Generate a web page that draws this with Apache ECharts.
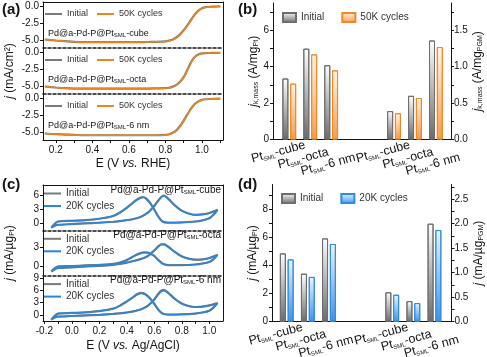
<!DOCTYPE html>
<html><head><meta charset="utf-8">
<script src="https://cdn.jsdelivr.net/npm/echarts@6/dist/echarts.min.js"></script>
<style>html,body{margin:0;padding:0;background:#fff}#c{width:487px;height:357px}</style>
</head><body><div id="c"></div>
<script>
// ---------- panel (a): ORR polarization curves ----------
const potA = [0.14,0.2,0.25,0.3,0.35,0.4,0.45,0.5,0.55,0.6,0.65,0.7,0.75,0.8,0.82,0.84,0.86,0.88,0.9,0.92,0.94,0.96,0.98,1.0,1.02,1.04,1.07,1.1];
const cubeInitialA = [-4.85,-5.0,-5.1,-5.2,-5.25,-5.25,-5.25,-5.25,-5.25,-5.25,-5.25,-5.22,-5.2,-5.13,-5.02,-4.85,-4.55,-4.1,-3.5,-2.78,-1.98,-1.2,-0.62,-0.28,-0.11,-0.05,-0.02,0.0];
const cube50KA     = [-4.85,-5.0,-5.1,-5.2,-5.25,-5.25,-5.25,-5.25,-5.25,-5.25,-5.25,-5.22,-5.2,-5.15,-5.05,-4.9,-4.6,-4.15,-3.55,-2.85,-2.05,-1.25,-0.65,-0.3,-0.12,-0.05,-0.02,0.0];
const octaInitialA = [-5.0,-5.15,-5.25,-5.3,-5.3,-5.3,-5.3,-5.3,-5.3,-5.3,-5.3,-5.3,-5.28,-5.25,-5.18,-5.02,-4.75,-4.3,-3.62,-2.55,-1.45,-0.68,-0.3,-0.15,-0.1,-0.08,-0.06,-0.05];
const octa50KA     = [-5.0,-5.15,-5.25,-5.3,-5.3,-5.3,-5.3,-5.3,-5.3,-5.3,-5.3,-5.3,-5.28,-5.25,-5.2,-5.05,-4.8,-4.35,-3.7,-2.65,-1.55,-0.72,-0.32,-0.16,-0.1,-0.08,-0.06,-0.05];
const nmInitialA   = [-5.15,-5.25,-5.3,-5.35,-5.4,-5.4,-5.4,-5.4,-5.4,-5.4,-5.4,-5.4,-5.4,-5.35,-5.25,-5.05,-4.68,-4.05,-3.25,-2.35,-1.5,-0.82,-0.43,-0.21,-0.12,-0.08,-0.05,-0.04];
const nm50KA       = [-5.15,-5.25,-5.3,-5.35,-5.4,-5.4,-5.4,-5.4,-5.4,-5.4,-5.4,-5.4,-5.4,-5.35,-5.27,-5.08,-4.72,-4.12,-3.33,-2.42,-1.57,-0.87,-0.46,-0.22,-0.12,-0.08,-0.05,-0.04];
const aXTicks = [0.2,0.3,0.4,0.5,0.6,0.7,0.8,0.9,1.0,1.1];
const aXLabels = [0.2,0.4,0.6,0.8,1.0];
const aYLabels = [-5,-2.5,0];

// ---------- panel (c): CV curves ----------
const fwdE = [-0.15,-0.12,-0.1,0.0,0.1,0.2,0.3,0.35,0.4,0.45,0.5,0.55,0.6,0.63,0.65,0.67,0.7,0.75,0.8,0.85,0.9,0.95,1.0,1.06];
const revE = [1.03,1.0,0.95,0.9,0.8,0.7,0.66,0.63,0.6,0.57,0.54,0.52,0.5,0.47,0.44,0.4,0.35,0.3,0.2,0.1,0.0,-0.1,-0.15];
const cubeInitFwdC = [-1.0,-0.55,-0.4,-0.25,-0.1,0.05,0.25,0.4,0.6,0.85,1.3,2.15,3.7,4.9,5.6,5.9,5.3,3.8,2.65,2.05,1.75,1.85,2.15,2.85];
const cubeInitRevC = [1.75,1.0,0.55,0.3,0.1,0.05,0.3,1.35,2.9,4.3,5.3,5.6,5.5,5.0,4.3,3.3,2.25,1.5,0.9,0.6,0.45,0.3,-1.0];
const cube20KFwdC  = [-1.0,-0.55,-0.4,-0.25,-0.1,0.05,0.25,0.4,0.6,0.85,1.3,2.1,3.6,4.8,5.5,5.8,5.2,3.7,2.6,2.0,1.7,1.8,2.1,2.8];
const cube20KRevC  = [1.7,1.0,0.55,0.3,0.1,0.05,0.3,1.3,2.8,4.2,5.2,5.5,5.4,4.9,4.2,3.2,2.2,1.5,0.9,0.6,0.45,0.3,-1.0];
const octaInitFwdC = [-0.9,-0.5,-0.35,-0.25,-0.1,0.0,0.15,0.3,0.5,0.75,1.05,1.5,2.45,3.1,3.4,3.42,3.05,2.2,1.5,1.12,0.97,1.02,1.22,1.72];
const octaInitRevC = [1.02,0.6,0.35,0.2,0.1,0.1,0.35,0.9,1.55,1.95,2.1,2.1,2.0,1.75,1.38,0.92,0.5,0.3,0.15,0.05,-0.05,-0.1,-0.9];
const octa20KFwdC  = [-0.9,-0.5,-0.35,-0.25,-0.1,0.0,0.15,0.3,0.5,0.75,1.05,1.5,2.4,3.0,3.3,3.3,2.95,2.15,1.45,1.1,0.95,1.0,1.2,1.7];
const octa20KRevC  = [1.0,0.6,0.35,0.2,0.1,0.1,0.35,0.9,1.5,1.9,2.05,2.05,1.95,1.7,1.35,0.9,0.5,0.3,0.15,0.05,-0.05,-0.1,-0.9];
const nmInitFwdC   = [-1.2,-0.6,-0.45,-0.3,-0.15,0.0,0.2,0.35,0.55,0.85,1.3,2.15,3.8,5.15,5.9,6.1,5.45,3.9,2.75,2.15,1.9,2.0,2.3,2.85];
const nmInitRevC   = [1.75,1.0,0.55,0.3,0.1,0.05,0.3,1.25,2.7,4.0,4.95,5.3,5.35,4.95,4.2,3.3,2.25,1.5,0.9,0.6,0.45,0.3,-1.2];
const nm20KFwdC    = [-1.2,-0.6,-0.45,-0.3,-0.15,0.0,0.2,0.35,0.55,0.85,1.3,2.1,3.7,5.0,5.7,5.9,5.3,3.8,2.7,2.1,1.85,1.95,2.25,2.8];
const nm20KRevC    = [1.7,1.0,0.55,0.3,0.1,0.05,0.3,1.2,2.6,3.9,4.8,5.15,5.2,4.8,4.1,3.2,2.2,1.5,0.9,0.6,0.45,0.3,-1.2];
const cXTicks = [-0.2,-0.1,0,0.1,0.2,0.3,0.4,0.5,0.6,0.7,0.8,0.9,1.0];
const cXLabels = [-0.2,0,0.2,0.4,0.6,0.8,1.0];

// ---------- panels (b) and (d): bars ----------
const catSuffix = ['cube','octa','6 nm','','','cube','octa','6 nm'];
const bInitialPt = [3.35,4.99,4.08];
const b50KPt     = [3.07,4.68,3.80];
const bInitialPGM = [0.39,0.60,1.36];
const b50KPGM     = [0.36,0.57,1.27];
const dInitialPt = [4.88,3.43,5.95];
const d20KPt     = [4.45,3.20,5.55];
const dInitialPGM = [0.60,0.42,2.00];
const d20KPGM     = [0.55,0.38,1.87];
const bLeftTicks = [0,1,2,3,4,5,6,7], bLeftLabels = [0,2,4,6];
const bRightTicks = [0,0.25,0.5,0.75,1,1.25,1.5,1.75], bRightLabels = [0,0.5,1,1.5];
const dLeftTicks = [0,1,2,3,4,5,6,7,8,9], dLeftLabels = [0,2,4,6,8];
const dRightTicks = [0,0.25,0.5,0.75,1,1.25,1.5,1.75,2,2.25,2.5,2.75], dRightLabels = [0,0.5,1,1.5,2,2.5];

// ---------- build ----------
const FONT = '"Liberation Sans", Arial, Helvetica, sans-serif';
const INK = '#141414';
const GRAY = '#7a7a7a', ORANGE = '#f08519', BLUE = '#2a86d8';
const chart = echarts.init(document.getElementById('c'), null, {renderer:'canvas'});
const grid=[], xAxis=[], yAxis=[], series=[], legend=[], graphic=[];
const addGrid = g => (grid.push(g), grid.length-1);
const addX = a => (xAxis.push(a), xAxis.length-1);
const addY = a => (yAxis.push(a), yAxis.length-1);
const zip = (xs, ys) => xs.map((x,i)=>[x, ys[i]]);
const line = (w,t) => ({show:true,onZero:false,lineStyle:{color:INK,width:w||1,type:t||'solid'}});
const noSplit = {show:false};
function bareAxis(gi, min, max, pos, lt, lw){
  return {gridIndex:gi, type:'value', min, max, position:pos, axisLine:line(lw,lt), axisTick:{show:false}, axisLabel:{show:false}, splitLine:noSplit};
}
function titleStyle(fs){
  return {fontSize:fs, fontFamily:FONT, color:INK,
    rich:{i:{fontSize:fs, fontFamily:FONT, color:INK, fontStyle:'italic'},
          s:{fontSize:7, fontFamily:FONT, color:INK, verticalAlign:'bottom'},
          n:{fontSize:fs, fontFamily:FONT, color:INK}}};
}
const labelRich = fs => ({fontSize:fs, fontFamily:FONT, fill:INK,
  rich:{s:{fontSize:6, fontFamily:FONT, fill:INK, verticalAlign:'bottom'}, n:{fontSize:fs, fontFamily:FONT, fill:INK}}});

// (a)
const aPanels = [
  {name:'cube', init:cubeInitialA, cyc:cube50KA},
  {name:'octa', init:octaInitialA, cyc:octa50KA},
  {name:'6 nm', init:nmInitialA, cyc:nm50KA}];
aPanels.forEach((p,i)=>{
  const top = 2 + 46*i;
  const gi = addGrid({left:43, width:180, top, height:46});
  const last = i===2;
  const xb = addX({gridIndex:gi, type:'value', min:0.13, max:1.115, position:'bottom',
    axisLine: last ? line(1) : line(1.5,[3,2]),
    axisTick:{show:last, length:3, customValues:aXTicks, lineStyle:{color:INK}},
    axisLabel:{show:last, customValues:aXLabels, formatter:v=>v.toFixed(1), fontSize:10, color:INK, fontFamily:FONT, margin:5},
    splitLine:noSplit,
    name: last ? 'E (V {i|vs.} RHE)' : '', nameLocation:'middle', nameGap:18, nameTextStyle:titleStyle(12)});
  if(i===0) addX(bareAxis(gi,0.13,1.115,'top'));
  const yl = addY({gridIndex:gi, type:'value', min:-6.1, max:0.65, position:'left', axisLine:line(1),
    axisTick:{show:true, length:3, customValues:aYLabels, lineStyle:{color:INK}},
    axisLabel:{show:true, customValues:aYLabels, formatter:v=>v.toFixed(1), fontSize:10, color:INK, fontFamily:FONT, margin:4},
    splitLine:noSplit,
    name: i===1 ? '{i|j} (mA/cm²)' : '', nameLocation:'middle', nameGap:27, nameRotate:90, nameTextStyle:titleStyle(12)});
  addY(bareAxis(gi,-6.1,0.65,'right'));
  series.push({type:'line', name:'a-Initial', xAxisIndex:xb, yAxisIndex:yl, data:zip(potA,p.init), symbol:'none', smooth:0.3,
    lineStyle:{color:GRAY,width:2.2}, itemStyle:{color:GRAY}, z:2});
  series.push({type:'line', name:'a-50K cycles', xAxisIndex:xb, yAxisIndex:yl, data:zip(potA,p.cyc), symbol:'none', smooth:0.3,
    lineStyle:{color:ORANGE,width:1.5}, itemStyle:{color:ORANGE}, z:3});
  legend.push({data:['a-Initial','a-50K cycles'], left:45, top:top+7.5, icon:'rect', itemWidth:17, itemHeight:2, itemGap:9, padding:0,
    formatter:n=>n.slice(2), textStyle:{fontSize:9, fontFamily:FONT, color:'#333'}});
  graphic.push({type:'text', x:48, y:top+32, style:Object.assign({text:'Pd@a-Pd-P@Pt{s|SML}{n|-'+p.name+'}', verticalAlign:'middle'}, labelRich(9))});
});

// (c)
const cPanels = [
  {name:'cube', min:-1.6, max:8.2, labels:[0,3,6], iF:cubeInitFwdC, iR:cubeInitRevC, cF:cube20KFwdC, cR:cube20KRevC},
  {name:'octa', min:-1.55, max:5.6, labels:[0,3], iF:octaInitFwdC, iR:octaInitRevC, cF:octa20KFwdC, cR:octa20KRevC},
  {name:'6 nm', min:-1.5, max:9.6, labels:[0,3,6,9], iF:nmInitFwdC, iR:nmInitRevC, cF:nm20KFwdC, cR:nm20KRevC}];
const cE = fwdE.concat(revE);
cPanels.forEach((p,i)=>{
  const top = 185 + 45.3*i;
  const gi = addGrid({left:43, width:180, top, height:45.3});
  const last = i===2;
  const xb = addX({gridIndex:gi, type:'value', min:-0.21, max:1.1, position:'bottom',
    axisLine: last ? line(1) : line(1.5,[3,2]),
    axisTick:{show:last, length:3, customValues:cXTicks, lineStyle:{color:INK}},
    axisLabel:{show:last, customValues:cXLabels, formatter:v=>v.toFixed(1), fontSize:10, color:INK, fontFamily:FONT, margin:5},
    splitLine:noSplit,
    name: last ? 'E (V {i|vs.} Ag/AgCl)' : '', nameLocation:'middle', nameGap:19, nameTextStyle:titleStyle(12)});
  if(i===0) addX(bareAxis(gi,-0.21,1.1,'top'));
  const yl = addY({gridIndex:gi, type:'value', min:p.min, max:p.max, position:'left', axisLine:line(1),
    axisTick:{show:true, length:3, customValues:p.labels, lineStyle:{color:INK}},
    axisLabel:{show:true, customValues:p.labels, fontSize:10, color:INK, fontFamily:FONT, margin:4},
    splitLine:noSplit,
    name: i===1 ? '{i|j} (mA/µg{s|Pt})' : '', nameLocation:'middle', nameGap:27, nameRotate:90, nameTextStyle:titleStyle(12)});
  addY(bareAxis(gi,p.min,p.max,'right'));
  series.push({type:'line', name:'c-Initial', xAxisIndex:xb, yAxisIndex:yl, data:zip(cE,p.iF.concat(p.iR)), symbol:'none', smooth:0.25,
    lineStyle:{color:GRAY,width:2.2}, itemStyle:{color:GRAY}, z:2});
  series.push({type:'line', name:'c-20K cycles', xAxisIndex:xb, yAxisIndex:yl, data:zip(cE,p.cF.concat(p.cR)), symbol:'none', smooth:0.25,
    lineStyle:{color:BLUE,width:1.5}, itemStyle:{color:BLUE}, z:3});
  legend.push({data:['c-Initial','c-20K cycles'], orient:'vertical', left:44, top:top+3.5, icon:'rect', itemWidth:17, itemHeight:2, itemGap:2.5, padding:0,
    formatter:n=>n.slice(2), textStyle:{fontSize:10, fontFamily:FONT, color:'#333'}});
  graphic.push({type:'text', x:221, y:top+5, style:Object.assign({text:'Pd@a-Pd-P@Pt{s|SML}{n|-'+p.name+'}', align:'right', verticalAlign:'middle'}, labelRich(10))});
});

// (b), (d)
function grad(c0, c1){ return new echarts.graphic.LinearGradient(0,0,0,1,[{offset:0,color:c0},{offset:1,color:c1}]); }
const pad = (arr, before, after) => Array(before).fill(null).concat(arr, Array(after).fill(null));
const barAxes = [];
function barPanel(o){
  const fg = addGrid({left:o.left, width:o.width, top:o.top, height:o.height});
  addX(bareAxis(fg,0,1,'bottom'));
  addY({gridIndex:fg, type:'value', min:0, max:o.lmax, position:'left', axisLine:line(1),
    axisTick:{show:true, length:3, customValues:o.lTicks, lineStyle:{color:INK}},
    axisLabel:{show:true, customValues:o.lLabels, fontSize:10, color:INK, fontFamily:FONT, margin:4},
    splitLine:noSplit, name:o.lName, nameLocation:'middle', nameGap:o.lGap, nameRotate:90, nameTextStyle:titleStyle(12)});
  addY({gridIndex:fg, type:'value', min:0, max:o.rmax, position:'right', axisLine:line(1),
    axisTick:{show:true, length:3, customValues:o.rTicks, lineStyle:{color:INK}},
    axisLabel:{show:true, customValues:o.rLabels, formatter:v=>v.toFixed(1), fontSize:10, color:INK, fontFamily:FONT, margin:3},
    splitLine:noSplit, name:o.rName, nameLocation:'middle', nameGap:o.rGap, nameRotate:90, nameTextStyle:titleStyle(12)});
  const bg = addGrid({left:o.bleft, width:o.bwidth, top:o.top, height:o.height});
  const bx0 = addX({gridIndex:bg, type:'category', data:catSuffix.map((s,k)=>'k'+k), position:'bottom',
    axisLine:{show:false}, axisTick:{show:false}, axisLabel:{show:false}, splitLine:noSplit});
  const bx1 = addX({gridIndex:bg, type:'category', data:catSuffix.map((s,k)=>'k'+k), show:false, position:'top'});
  const byL = addY({gridIndex:bg, type:'value', min:0, max:o.lmax, show:false, position:'left'});
  const byR = addY({gridIndex:bg, type:'value', min:0, max:o.rmax, show:false, position:'right'});
  barAxes.push({x:bx0, y:byL, base:o.top+o.height});
  const gStyle = {color:grad('#ffffff','#6a6a6a'), borderColor:'#6e6e6e', borderWidth:1};
  const cStyle = {color:grad(o.cTop,o.cBot), borderColor:o.cBorder, borderWidth:1};
  const common = {type:'bar', barWidth:6, barGap:'30%'};
  series.push(Object.assign({name:o.p+'-Initial', xAxisIndex:bx0, yAxisIndex:byL, data:pad(o.iPt,0,5), itemStyle:gStyle}, common));
  series.push(Object.assign({name:o.p+'-'+o.cName, xAxisIndex:bx0, yAxisIndex:byL, data:pad(o.cPt,0,5), itemStyle:cStyle}, common));
  series.push(Object.assign({name:o.p+'-Initial', xAxisIndex:bx1, yAxisIndex:byR, data:pad(o.iPGM,5,0), itemStyle:gStyle}, common));
  series.push(Object.assign({name:o.p+'-'+o.cName, xAxisIndex:bx1, yAxisIndex:byR, data:pad(o.cPGM,5,0), itemStyle:cStyle}, common));
  legend.push({data:[o.p+'-Initial', o.p+'-'+o.cName], left:o.legLeft, top:o.legTop, icon:'rect', itemWidth:13, itemHeight:9, itemGap:17, padding:0,
    formatter:n=>n.slice(2), textStyle:{fontSize:10, fontFamily:FONT, color:'#333'}});
}
barPanel({p:'b', left:273, width:178, top:3, height:136.5, bleft:278.8, bwidth:167.6, lmax:7.5, rmax:1.875,
  lTicks:bLeftTicks, lLabels:bLeftLabels, rTicks:bRightTicks, rLabels:bRightLabels,
  lName:'{i|j}{s|k,mass} (A/mg{s|Pt})', rName:'{i|j}{s|k,mass} (A/mg{s|PGM})', lGap:11, rGap:20,
  iPt:bInitialPt, cPt:b50KPt, iPGM:bInitialPGM, cPGM:b50KPGM, cName:'50K cycles',
  cTop:'#fff4ea', cBot:'#f59c4e', cBorder:'#f08a24', legLeft:282, legTop:12});
barPanel({p:'d', left:272, width:179.5, top:184.5, height:137.2, bleft:276.2, bwidth:168.8, lmax:9.8, rmax:2.8,
  lTicks:dLeftTicks, lLabels:dLeftLabels, rTicks:dRightTicks, rLabels:dRightLabels,
  lName:'{i|j} (mA/µg{s|Pt})', rName:'{i|j} (mA/µg{s|PGM})', lGap:12, rGap:20,
  iPt:dInitialPt, cPt:d20KPt, iPGM:dInitialPGM, cPGM:d20KPGM, cName:'20K cycles',
  cTop:'#eef6ff', cBot:'#3b93e6', cBorder:'#2e8ce6', legLeft:281, legTop:193});

// panel letters
[['(a)',2,2],['(b)',238,2],['(c)',2,177],['(d)',238,177]].forEach(([t,x,y])=>{
  graphic.push({type:'text', x, y, style:{text:t, fontSize:15, fontWeight:'bold', fontFamily:FONT, fill:INK}});
});

chart.setOption({animation:false, backgroundColor:'#fff', grid, xAxis, yAxis, series, legend, graphic});

// rotated category labels, placed from the category axis scale
const lblDx = [-11,-7,-3], lblDy = [12.5,19,25];
barAxes.forEach(ax=>{
  catSuffix.forEach((s,k)=>{
    if(!s) return;
    const px = chart.convertToPixel({xAxisIndex:ax.x}, 'k'+k);
    const kk = k % 5;
    graphic.push({type:'text', x:px+lblDx[kk], y:ax.base+lblDy[kk], rotation:15*Math.PI/180,
      style:Object.assign({text:'Pt{s|SML}{n|-'+s+'}', align:'center', verticalAlign:'middle'}, labelRich(12.5))});
  });
});
chart.setOption({graphic});
</script></body></html>
